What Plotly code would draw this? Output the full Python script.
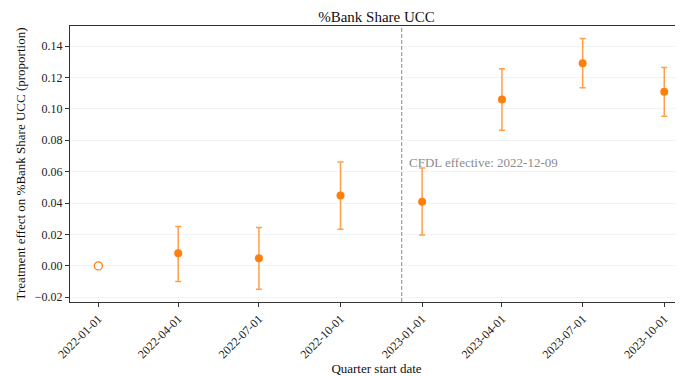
import plotly.graph_objects as go

quarters = ["2022-01-01", "2022-04-01", "2022-07-01", "2022-10-01",
            "2023-01-01", "2023-04-01", "2023-07-01", "2023-10-01"]
effect = [0.0, 0.0081, 0.0049, 0.0449, 0.0409, 0.1060, 0.1290, 0.1109]
ci_low = [0.0, -0.0100, -0.0149, 0.0234, 0.0196, 0.0864, 0.1134, 0.0953]
ci_high = [0.0, 0.0251, 0.0245, 0.0662, 0.0624, 0.1256, 0.1449, 0.1264]
ytick_vals = [-0.02, 0.00, 0.02, 0.04, 0.06, 0.08, 0.10, 0.12, 0.14]
cfdl_date = "2022-12-09"

ORANGE = "#ff7f0e"
FONT = "Liberation Serif"

fig = go.Figure()

# reference quarter (open marker)
fig.add_trace(go.Scatter(
    x=quarters[:1], y=effect[:1], mode="markers",
    marker=dict(symbol="circle-open", size=8, color=ORANGE, line=dict(width=1.3)),
    showlegend=False, hoverinfo="skip"))

# estimated quarters with CI
fig.add_trace(go.Scatter(
    x=quarters[1:], y=effect[1:], mode="markers",
    marker=dict(symbol="circle", size=8, color=ORANGE),
    error_y=dict(type="data", symmetric=False,
                 array=[h - e for h, e in zip(ci_high[1:], effect[1:])],
                 arrayminus=[e - l for e, l in zip(effect[1:], ci_low[1:])],
                 color="rgba(255,127,14,0.75)", thickness=1.5, width=3),
    showlegend=False, hoverinfo="skip"))

fig.add_shape(type="line", xref="x", yref="paper", x0=cfdl_date, x1=cfdl_date,
              y0=0, y1=1, line=dict(color="#888888", width=1, dash="4px,2px"))
fig.add_annotation(x=cfdl_date, y=0.0658, xref="x", yref="y", xanchor="left",
                   xshift=5, yanchor="middle", showarrow=False,
                   text="CFDL effective: " + cfdl_date,
                   font=dict(family=FONT, size=13, color="#8c8c8c"))

fig.update_layout(
    width=675, height=368,
    margin=dict(l=62, r=0, t=18, b=74, autoexpand=False),
    paper_bgcolor="white", plot_bgcolor="white",
    font=dict(family=FONT, size=12, color="#222222"),
    title=dict(text="%Bank Share UCC", x=0.5, xref="paper", xanchor="center",
               y=1, yref="paper", yanchor="bottom", pad=dict(b=4),
               automargin=False,
               font=dict(family=FONT, size=15, color="#111111")),
    xaxis=dict(type="date", range=["2021-11-30", "2023-10-22 03:00"],
               tickvals=quarters, ticktext=quarters, tickangle=-45,
               ticks="outside", ticklen=4, tickcolor="#333333",
               showline=True, linecolor="#333333", linewidth=1, mirror=True,
               showgrid=False, zeroline=False, automargin=False,
               tickfont=dict(family=FONT, size=12, color="#222222"),
               title=dict(text="Quarter start date", standoff=4,
                          font=dict(family=FONT, size=13, color="#111111"))),
    yaxis=dict(range=[-0.023, 0.1528], tickvals=ytick_vals,
               ticktext=["\u22120.02"] + [f"{v:.2f}" for v in ytick_vals[1:]],
               ticks="outside", ticklen=4, tickcolor="#333333",
               showline=True, linecolor="#333333", linewidth=1,
               showgrid=True, gridcolor="#f3f3f3", gridwidth=1, zeroline=False,
               automargin=False,
               tickfont=dict(family=FONT, size=12, color="#222222"),
               title=dict(text="Treatment effect on %Bank Share UCC (proportion)",
                          standoff=6,
                          font=dict(family=FONT, size=13, color="#111111"))),
)

fig.write_html("out.html")
